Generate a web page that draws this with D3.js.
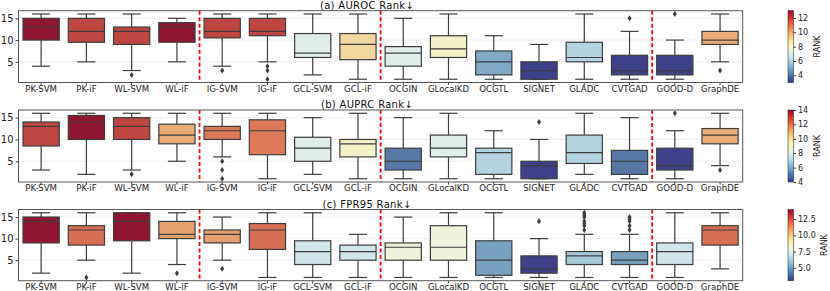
<!DOCTYPE html>
<html lang="en">
<head>
<meta charset="UTF-8">
<title>Rank boxplots</title>
<script src="https://d3js.org/d3.v7.min.js"></script>
<style>
  body { margin: 0; background: #fff; font-family: 'DejaVu Sans', sans-serif; }
  svg { display: block; }
  .tick text { fill: #222; }
</style>
</head>
<body>
<div id="chart"></div>
<script>
// methods on the x axis
const methods = ["PK-SVM", "PK-iF", "WL-SVM", "WL-iF", "IG-SVM", "IG-iF", "GCL-SVM", "GCL-iF",
  "OCGIN", "GLocalKD", "OCGTL", "SIGNET", "GLADC", "CVTGAD", "GOOD-D", "GraphDE"];
// dashed separators are drawn in front of these
const groupStarts = ["IG-SVM", "OCGIN", "GOOD-D"];

// [whisker low, q1, median, q3, whisker high]
const aurocStats = [[4,10,13,15,16],[5,9.5,12,15,16],[3,9,12,13,16],[5,9.5,13,14,15],[4,10.5,12,15,16],[5,11,12,15,16],
  [2,6,7,11.5,16],[1,5.5,9,11.5,16],[1,4,7,8.5,15],[1,6,8,11,16],[1,2,5,7.5,11],[1,1,3,5,9],
  [1,5,6,9.5,16],[1,2,3,6.5,12],[1,2,3,6.5,10],[5,9,10,12,16]];
const aurocOutliers = [[],[],[2],[],[3],[4,3,1],[],[],[],[],[],[],[],[15],[16],[3]];

const auprcStats = [[3,8.5,13,14,16],[2,10,14,15.5,16],[3,10,13,15,16],[5,9,11,13.5,16],[6,10,12,13,16],[1,6.5,12,14.5,16],
  [2,5,8,10.5,15],[1,6,9,10,16],[1,3,5,8,15],[1,6,8,11,16],[1,2,7,8,12],[1,1,4,5,10],
  [2,4.5,7,11,16],[1,2,5,7.5,15],[1,3,4,8,12],[4,9,11,12.5,16]];
const auprcOutliers = [[],[],[2],[],[5,3,1],[],[],[],[],[],[],[14],[],[],[16],[3]];

const fprStats = [[2,9,14,15,16],[5,8.5,12,13,16],[2,9.5,14,16,16],[4,10,11,14,16],[5,9,11,12,15],[1,7.5,12,13.5,16],
  [1,4,7,9.5,16],[1,5,7,8.5,11],[1,5,8,9,15],[1,5,8,13,16],[1,1.5,5,9.5,16],[1,2,3,6,10],
  [1,4,6,7,11],[1,4,5,7,11],[1,4,7,9,16],[3,8.5,12,13,16]];
const fprOutliers = [[],[1],[],[2],[3],[],[],[],[],[],[],[14],[16,15.5,15,14,13.5,13,12],[15,14.5,14,13,12],[],[]];

const titles = ["(a) AUROC Rank\u2193", "(b) AUPRC Rank\u2193", "(c) FPR95 Rank\u2193"];
const colorDomains = [[3, 13], [4, 14], [3, 14]];
const colorTicks = [[4, 6, 8, 10, 12], [4, 6, 8, 10, 12, 14], [5, 7.5, 10, 12.5]];

const panels = [
  { stats: aurocStats, out: aurocOutliers, top: 10.7, bottom: 82.5, fmt: d3.format("d"), labelX: 817 },
  { stats: auprcStats, out: auprcOutliers, top: 110, bottom: 182, fmt: d3.format("d"), labelX: 817 },
  { stats: fprStats, out: fprOutliers, top: 209.5, bottom: 280.7, fmt: d3.format(".1f"), labelX: 824 }
];

const W = 830, H = 291, left = 18.5, right = 742.7;
const edge = "#3d3d3d";

const svg = d3.select("#chart").append("svg")
  .attr("width", W).attr("height", H);

const x = d3.scaleBand().domain(methods).range([left, right]);
const boxW = x.bandwidth() * 0.8;
const capW = boxW * 0.5;

const defs = svg.append("defs");

panels.forEach((p, i) => {
  const y = d3.scaleLinear().domain([0.25, 16.75]).range([p.bottom, p.top]);
  const color = d3.scaleSequential(t => d3.interpolateRdYlBu(1 - t))
    .domain(colorDomains[i]).clamp(true);
  const boxColor = v => { const c = d3.hsl(color(v)); c.s *= 0.75; return c.formatHex(); };

  const g = svg.append("g");

  // light horizontal grid
  g.append("g").selectAll("line").data([5, 10, 15]).join("line")
    .attr("x1", left).attr("x2", right)
    .attr("y1", d => y(d)).attr("y2", d => y(d))
    .attr("stroke", "#ebebeb").attr("stroke-width", 0.8);

  // axes
  const yAxis = g.append("g").attr("transform", `translate(${left},0)`)
    .call(d3.axisLeft(y).tickValues([5, 10, 15]).tickSize(3).tickPadding(2));
  yAxis.select(".domain").remove();
  yAxis.selectAll("line").attr("stroke", edge);
  yAxis.selectAll("text").attr("font-size", 10).attr("font-family", "DejaVu Sans");

  const xAxis = g.append("g").attr("transform", `translate(0,${p.bottom})`)
    .call(d3.axisBottom(x).tickSize(2.5).tickPadding(0.8));
  xAxis.select(".domain").remove();
  xAxis.selectAll("line").attr("stroke", edge);
  xAxis.selectAll("text").attr("font-size", 8.6).attr("font-family", "DejaVu Sans");

  // boxes
  const rows = methods.map((m, j) => ({ m, s: p.stats[j], o: p.out[j] }));
  const box = g.append("g").selectAll("g").data(rows).join("g")
    .attr("transform", d => `translate(${x(d.m) + x.bandwidth() / 2},0)`);

  box.append("line").attr("x1", 0).attr("x2", 0)
    .attr("y1", d => y(d.s[0])).attr("y2", d => y(d.s[1]))
    .attr("stroke", edge).attr("stroke-width", 1.2);
  box.append("line").attr("x1", 0).attr("x2", 0)
    .attr("y1", d => y(d.s[3])).attr("y2", d => y(d.s[4]))
    .attr("stroke", edge).attr("stroke-width", 1.2);
  box.selectAll(".cap").data(d => [d.s[0], d.s[4]]).join("line").attr("class", "cap")
    .attr("x1", -capW / 2).attr("x2", capW / 2)
    .attr("y1", d => y(d)).attr("y2", d => y(d))
    .attr("stroke", edge).attr("stroke-width", 1.2);
  box.append("rect")
    .attr("x", -boxW / 2).attr("width", boxW)
    .attr("y", d => y(d.s[3])).attr("height", d => y(d.s[1]) - y(d.s[3]))
    .attr("fill", d => boxColor(d.s[2]))
    .attr("stroke", edge).attr("stroke-width", 1.2);
  box.append("line")
    .attr("x1", -boxW / 2).attr("x2", boxW / 2)
    .attr("y1", d => y(d.s[2])).attr("y2", d => y(d.s[2]))
    .attr("stroke", edge).attr("stroke-width", 1.2);
  box.selectAll(".flier").data(d => d.o).join("path").attr("class", "flier")
    .attr("d", "M0,-3 L2,0 L0,3 L-2,0 Z")
    .attr("transform", d => `translate(0,${y(d)})`)
    .attr("fill", edge);

  // group separators
  g.append("g").selectAll("line").data(groupStarts).join("line")
    .attr("x1", d => x(d)).attr("x2", d => x(d))
    .attr("y1", p.top).attr("y2", p.bottom)
    .attr("stroke", "#ff0000").attr("stroke-width", 1.8)
    .attr("stroke-dasharray", "4,2.5");

  // frame
  g.append("rect").attr("x", left).attr("y", p.top)
    .attr("width", right - left).attr("height", p.bottom - p.top)
    .attr("fill", "none").attr("stroke", "#555").attr("stroke-width", 1);

  // title
  g.append("text").attr("x", 367).attr("y", p.top - 2)
    .attr("text-anchor", "middle").attr("font-size", 10)
    .attr("letter-spacing", 0.3).attr("fill", "#111")
    .text(titles[i]);

  // colorbar
  const cbX = 788, cbW = 5.5;
  const cy = d3.scaleLinear().domain(colorDomains[i]).range([p.bottom, p.top]);
  const gradId = "grad" + i;
  const grad = defs.append("linearGradient").attr("id", gradId)
    .attr("x1", 0).attr("x2", 0).attr("y1", 1).attr("y2", 0);
  d3.range(0, 1.0001, 0.05).forEach(t => {
    grad.append("stop").attr("offset", t).attr("stop-color", d3.interpolateRdYlBu(1 - t));
  });
  g.append("rect").attr("x", cbX).attr("y", p.top)
    .attr("width", cbW).attr("height", p.bottom - p.top)
    .attr("fill", `url(#${gradId})`).attr("stroke", "#333").attr("stroke-width", 0.6);
  const cAxis = g.append("g").attr("transform", `translate(${cbX + cbW},0)`)
    .call(d3.axisRight(cy).tickValues(colorTicks[i]).tickFormat(p.fmt).tickSize(2.5).tickPadding(2));
  cAxis.select(".domain").remove();
  cAxis.selectAll("line").attr("stroke", "#333");
  cAxis.selectAll("text").attr("font-size", 8).attr("font-family", "DejaVu Sans");
  g.append("text")
    .attr("transform", `translate(${p.labelX},${(p.top + p.bottom) / 2}) rotate(-90)`)
    .attr("text-anchor", "middle").attr("dy", "0.35em")
    .attr("font-size", 8).attr("fill", "#222")
    .text("RANK");
});
</script>
</body>
</html>
